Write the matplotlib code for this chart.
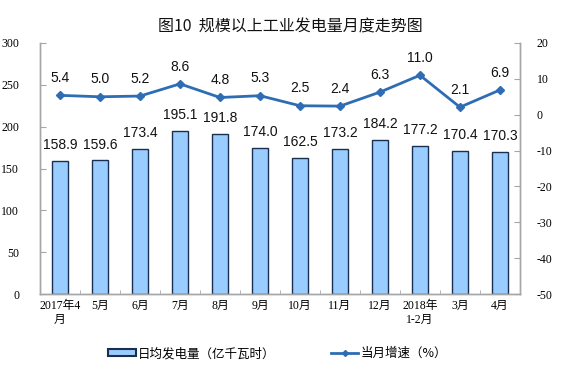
import matplotlib
matplotlib.use("Agg")
import matplotlib.pyplot as plt
import numpy as np
from matplotlib.lines import Line2D
from matplotlib.patches import Patch

plt.rcParams['axes.unicode_minus'] = False

categories = ["2017年4\n月", "5月", "6月", "7月", "8月", "9月", "10月", "11月", "12月", "2018年\n1-2月", "3月", "4月"]
daily_output = [158.9, 159.6, 173.4, 195.1, 191.8, 174.0, 162.5, 173.2, 184.2, 177.2, 170.4, 170.3]
growth = [5.4, 5.0, 5.2, 8.6, 4.8, 5.3, 2.5, 2.4, 6.3, 11.0, 2.1, 6.9]
left_ticks = [0, 50, 100, 150, 200, 250, 300]
right_ticks = [-50, -40, -30, -20, -10, 0, 10, 20]

CJK = ['Noto Sans CJK SC', 'DejaVu Sans']
SERIF = ['Liberation Serif', 'Noto Sans CJK SC']
SANS = ['Liberation Sans', 'Noto Sans CJK SC']

fig = plt.figure(figsize=(5.64, 3.77), dpi=100)
ax = fig.add_axes([0.0709, 0.220, 0.851, 0.666])
ax2 = ax.twinx()

x = np.arange(len(categories))
bar_color = '#99CCFF'
edge_color = '#1A2F4F'
line_color = '#2E6DB4'
grey = '#A6A6A6'

ax.bar(x, daily_output, width=0.4, color=bar_color, edgecolor=edge_color, linewidth=1.0, zorder=2)
for xi, v in zip(x, daily_output):
    ax.annotate(f"{v:.1f}", (xi, v), xytext=(0, 11.5), textcoords='offset points',
                ha='center', va='center', fontsize=10, family=SANS, color='#111111')

ax.set_xlim(-0.5, len(categories) - 0.5)
ax.set_ylim(0, 300)
ax.set_yticks(left_ticks)
ax.set_xticks(x)
ax.set_xticklabels(categories, family=SERIF, fontsize=8.5, linespacing=1.3)
ax.set_xticks(np.arange(-0.5, len(categories), 1), minor=True)
ax.tick_params(axis='x', which='major', length=0, pad=4)
ax.tick_params(axis='x', which='minor', length=3, direction='in', color=grey)
ax.tick_params(axis='y', direction='in', length=4, color=grey, labelsize=8.5, pad=15)
for lab in ax.get_yticklabels():
    lab.set_family(SERIF)

ax2.plot(x, growth, color=line_color, linewidth=2, marker='D', markersize=4, zorder=3)
for xi, v in zip(x, growth):
    ax2.annotate(f"{v:.1f}", (xi, v), xytext=(0, 12.5), textcoords='offset points',
                 ha='center', va='center', fontsize=10, family=SANS, color='#111111')
ax2.set_ylim(-50, 20)
ax2.set_yticks(right_ticks)
ax2.tick_params(axis='y', direction='in', length=4, color=grey, labelsize=8.5, pad=12)
for lab in ax2.get_yticklabels():
    lab.set_family(SERIF)

for a in (ax, ax2):
    a.spines['top'].set_visible(False)
    for s in ('left', 'right', 'bottom'):
        a.spines[s].set_color(grey)
        a.spines[s].set_linewidth(1.0)

fig.text(0.514, 0.928, "图10  规模以上工业发电量月度走势图", ha='center', va='center', fontsize=11.5,
         family=CJK, color='#111111', weight='medium')

handles = [Patch(facecolor=bar_color, edgecolor=edge_color, linewidth=1.5),
           Line2D([0], [0], color=line_color, linewidth=2, marker='D', markersize=3)]
labels = ["日均发电量（亿千瓦时）", "当月增速（%）"]
fig.legend(handles, labels, loc='center', bbox_to_anchor=(0.4925, 0.062), ncol=2, frameon=False,
           prop={'family': CJK, 'size': 9}, handlelength=2.2, handleheight=0.5, handletextpad=0.2, columnspacing=4.4)

fig.savefig("out.png", dpi=100)
